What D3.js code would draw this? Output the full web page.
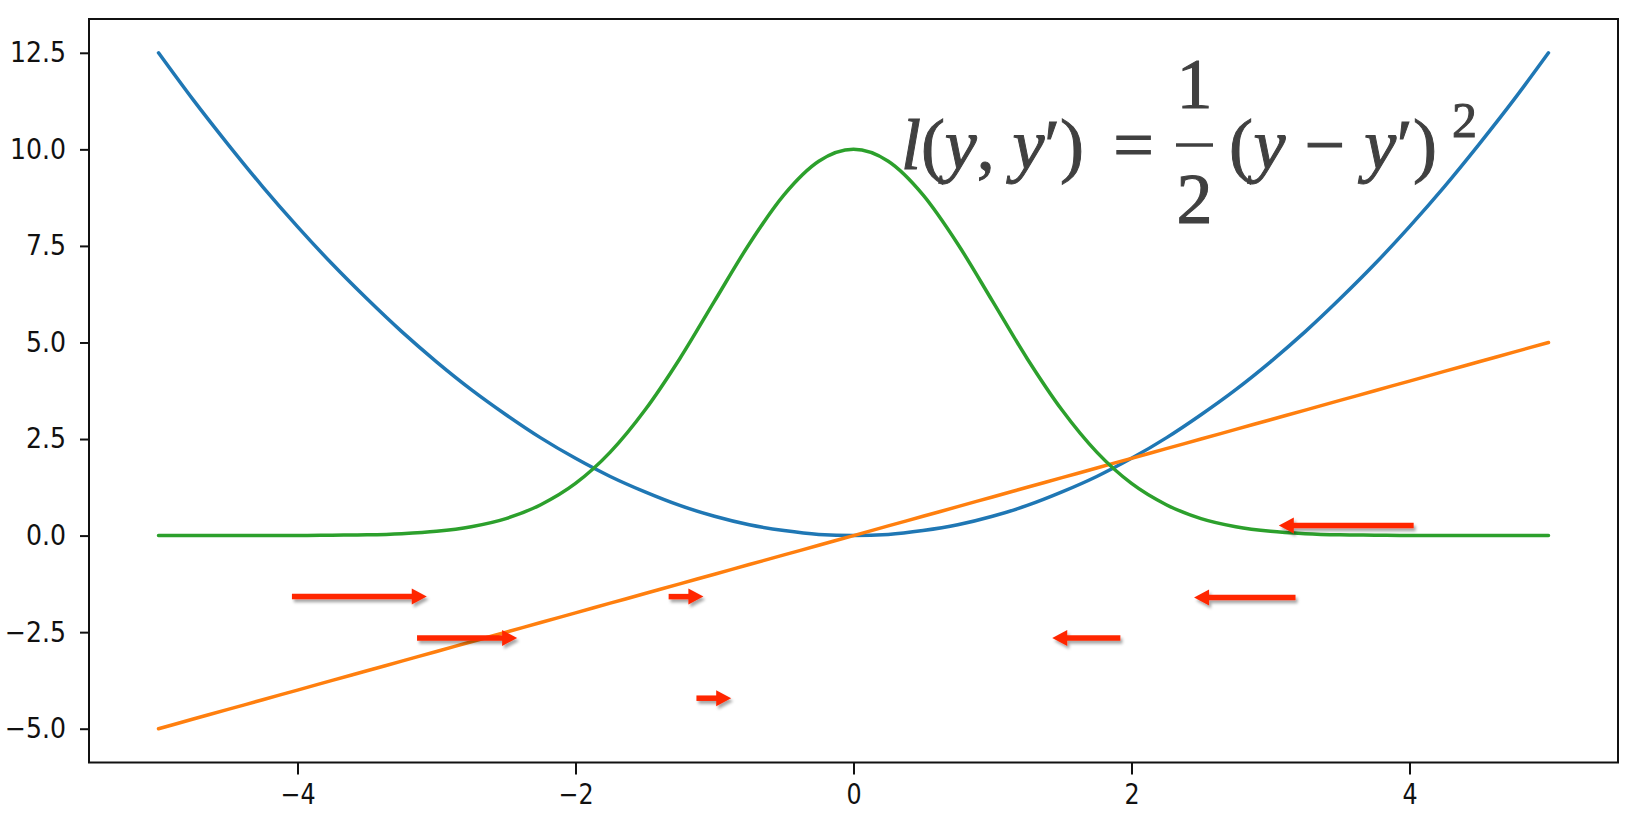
<!DOCTYPE html>
<html lang="en">

<head>
    <meta charset="UTF-8" />
    <title>Squared loss</title>
    <script src="https://d3js.org/d3.v7.min.js"></script>
    <style>
        body {
            margin: 0;
            background: #fff;
        }

        .tick text {
            font-family: "DejaVu Sans", sans-serif;
            font-size: 28px;
            fill: #111;
        }

        .formula text {
            font-family: "Cambria Math", "Liberation Serif", serif;
            font-size: 72px;
            fill: #404040;
            stroke: #404040;
            stroke-width: 1;
        }
    </style>
</head>

<body>
    <svg width="1643" height="814"></svg>
    <script>
        // sample points
        const xs = [-5, -4.75, -4.5, -4.25, -4, -3.75, -3.5, -3.25, -3, -2.75, -2.5, -2.25, -2, -1.75, -1.5, -1.25, -1, -0.75, -0.5, -0.25,
            0, 0.25, 0.5, 0.75, 1, 1.25, 1.5, 1.75, 2, 2.25, 2.5, 2.75, 3, 3.25, 3.5, 3.75, 4, 4.25, 4.5, 4.75, 5];
        const loss = [12.5, 11.28, 10.13, 9.03, 8.0, 7.03, 6.13, 5.28, 4.5, 3.78, 3.13, 2.53, 2.0, 1.53, 1.13, 0.78, 0.5, 0.28, 0.13, 0.03,
            0, 0.03, 0.13, 0.28, 0.5, 0.78, 1.13, 1.53, 2.0, 2.53, 3.13, 3.78, 4.5, 5.28, 6.13, 7.03, 8.0, 9.03, 10.13, 11.28, 12.5];
        const grad = [-5, -4.75, -4.5, -4.25, -4, -3.75, -3.5, -3.25, -3, -2.75, -2.5, -2.25, -2, -1.75, -1.5, -1.25, -1, -0.75, -0.5, -0.25,
            0, 0.25, 0.5, 0.75, 1, 1.25, 1.5, 1.75, 2, 2.25, 2.5, 2.75, 3, 3.25, 3.5, 3.75, 4, 4.25, 4.5, 4.75, 5];
        const likelihood = [0, 0, 0, 0, 0, 0.01, 0.02, 0.05, 0.11, 0.23, 0.44, 0.80, 1.35, 2.16, 3.25, 4.58, 6.07, 7.55, 8.82, 9.69,
            10.0, 9.69, 8.82, 7.55, 6.07, 4.58, 3.25, 2.16, 1.35, 0.80, 0.44, 0.23, 0.11, 0.05, 0.02, 0.01, 0, 0, 0, 0, 0];

        // red arrows: start x, end x (tip), height
        const arrowFrom = [-4.04, -3.14, -1.33, -1.13, 4.03, 3.18, 1.92];
        const arrowTo = [-3.07, -2.42, -1.08, -0.88, 3.06, 2.45, 1.43];
        const arrowY = [-1.58, -2.65, -1.58, -4.21, 0.26, -1.60, -2.65];

        const xTicks = [-4, -2, 0, 2, 4];
        const yTicks = [-5, -2.5, 0, 2.5, 5, 7.5, 10, 12.5];

        function draw() {
            var svg = d3.select("svg");
            var left = 89, right = 1618, plotTop = 19, bottom = 762.5;

            var x = d3.scaleLinear().domain([-5.5, 5.5]).range([left, right]);
            var y = d3.scaleLinear().domain([-5.875, 13.375]).range([bottom, plotTop]);

            var minus = function(s) { return s.replace("-", "\u2212"); };

            // axes
            var xAxis = svg.append("g")
                .attr("transform", "translate(0," + bottom + ")")
                .call(d3.axisBottom(x).tickValues(xTicks).tickSize(12).tickPadding(10)
                    .tickFormat(function(d) { return minus(d3.format("d")(d)); }));
            var yAxis = svg.append("g")
                .attr("transform", "translate(" + left + ",0)")
                .call(d3.axisLeft(y).tickValues(yTicks).tickSize(9).tickPadding(14)
                    .tickFormat(function(d) { return minus(d3.format(".1f")(d)); }));
            svg.selectAll(".domain").remove();
            svg.selectAll(".tick line").attr("stroke", "#111").attr("stroke-width", 2);
            // labels in the picture look a little narrow
            xAxis.selectAll(".tick text").attr("transform", "scale(0.85,1)");
            yAxis.selectAll(".tick text").attr("transform", "translate(-23,0) scale(0.9,1) translate(23,0)");

            // lines
            var line = function(vals) {
                return d3.line()
                    .x(function(d, i) { return x(xs[i]); })
                    .y(function(d) { return y(d); })
                    .curve(d3.curveMonotoneX)(vals);
            };

            var series = [
                { vals: loss, color: "#1f77b4" },
                { vals: grad, color: "#ff7f0e" },
                { vals: likelihood, color: "#2ca02c" }
            ];
            svg.append("g").selectAll("path")
                .data(series)
                .enter()
                .append("path")
                .attr("d", function(d) { return line(d.vals); })
                .attr("fill", "none")
                .attr("stroke", function(d) { return d.color; })
                .attr("stroke-width", 3.5)
                .attr("stroke-linecap", "round");

            // frame
            svg.append("rect")
                .attr("x", left).attr("y", plotTop)
                .attr("width", right - left).attr("height", bottom - plotTop)
                .attr("fill", "none")
                .attr("stroke", "#111")
                .attr("stroke-width", 2);

            // arrow shadow
            var defs = svg.append("defs");
            defs.append("filter")
                .attr("id", "shadow")
                .attr("x", "-20%").attr("y", "-100%")
                .attr("width", "140%").attr("height", "300%")
                .append("feDropShadow")
                .attr("dx", 2).attr("dy", 3)
                .attr("stdDeviation", 1.5)
                .attr("flood-color", "#000")
                .attr("flood-opacity", 0.35);

            var arrows = svg.append("g")
                .attr("filter", "url(#shadow)")
                .selectAll("g")
                .data(arrowY.map(function(v, i) { return { x0: arrowFrom[i], x1: arrowTo[i], y: v }; }))
                .enter()
                .append("g");

            var headLen = 15, headHalf = 8;
            arrows.append("line")
                .attr("x1", function(d) { return x(d.x0); })
                .attr("x2", function(d) { return x(d.x1) - Math.sign(d.x1 - d.x0) * (headLen - 1); })
                .attr("y1", function(d) { return y(d.y); })
                .attr("y2", function(d) { return y(d.y); })
                .attr("stroke", "#ff2600")
                .attr("stroke-width", 5.5);
            arrows.append("path")
                .attr("d", function(d) {
                    var s = Math.sign(d.x1 - d.x0), tx = x(d.x1), ty = y(d.y);
                    return "M" + tx + "," + ty +
                        "L" + (tx - s * headLen) + "," + (ty - headHalf) +
                        "L" + (tx - s * headLen) + "," + (ty + headHalf) + "Z";
                })
                .attr("fill", "#ff2600");

            // formula
            var f = svg.append("g").attr("class", "formula");
            f.append("text").attr("x", 901).attr("y", 169)
                .attr("textLength", 183)
                .html('<tspan font-style="italic">l</tspan>(<tspan font-style="italic">y</tspan>, <tspan font-style="italic">y</tspan>′)');
            f.append("text").attr("x", 1133.5).attr("y", 169).attr("text-anchor", "middle").text("=");
            f.append("text").attr("x", 1194.5).attr("y", 108).attr("text-anchor", "middle").text("1");
            f.append("line")
                .attr("x1", 1176).attr("x2", 1213)
                .attr("y1", 145).attr("y2", 145)
                .attr("stroke", "#404040").attr("stroke-width", 3.5);
            f.append("text").attr("x", 1194.5).attr("y", 223).attr("text-anchor", "middle").text("2");
            f.append("text").attr("x", 1229).attr("y", 169)
                .attr("textLength", 208)
                .html('(<tspan font-style="italic">y</tspan> − <tspan font-style="italic">y</tspan>′)');
            f.append("text").attr("x", 1452).attr("y", 137).style("font-size", "50px").text("2");
        }

        draw();
    </script>
</body>

</html>
